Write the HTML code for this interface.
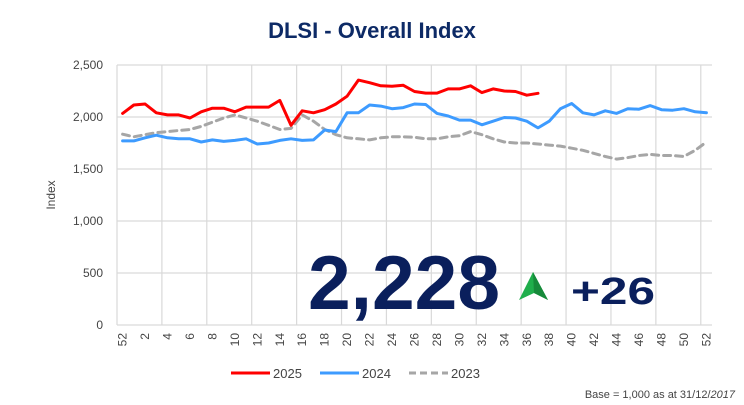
<!DOCTYPE html>
<html><head><meta charset="utf-8"><style>
html,body{margin:0;padding:0;background:#fff;width:744px;height:405px;overflow:hidden}
svg{display:block;font-family:"Liberation Sans",sans-serif}
</style></head><body>
<svg id="chart" width="744" height="405" viewBox="0 0 744 405">
<text x="372" y="38" text-anchor="middle" font-size="22" font-weight="bold" fill="#0d2a66">DLSI - Overall Index</text>
<g id="grid"></g>
<g id="yaxis"></g>
<g id="xaxis"></g>
<text transform="translate(55,195) rotate(-90)" text-anchor="middle" font-size="12" fill="#444">Index</text>
<g id="series"></g>
<text x="308" y="309" font-size="76" font-weight="bold" fill="#0a1f5c" textLength="192" lengthAdjust="spacingAndGlyphs">2,228</text>
<path d="M533,272 L548,300 L534,293 L519,300 Z" fill="#1fae4b"/>
<path d="M533,272 L534,293 L548,300 Z" fill="#168a3a"/>
<text x="571" y="304" font-size="38" font-weight="bold" fill="#0a1f5c" textLength="84" lengthAdjust="spacingAndGlyphs">+26</text>
<g>
<g><line x1="231" y1="373" x2="270" y2="373" stroke="#ff0000" stroke-width="3"/><text x="273" y="378" font-size="13" fill="#444">2025</text></g>
<g><line x1="320" y1="373" x2="359" y2="373" stroke="#3d9bff" stroke-width="3"/><text x="362" y="378" font-size="13" fill="#444">2024</text></g>
<g><line x1="409" y1="373" x2="448" y2="373" stroke="#a6a6a6" stroke-width="3" stroke-dasharray="7,4"/><text x="451" y="378" font-size="13" fill="#444">2023</text></g>
</g>
<text x="735" y="398" text-anchor="end" font-size="11" fill="#444">Base = 1,000 as at 31/12/<tspan font-style="italic">2017</tspan></text>
</svg>
<script>
const categories=["52"];for(let w=1;w<=52;w++)categories.push(String(w));
const yTicks=[0,500,1000,1500,2000,2500];
const yTickLabels=["0","500","1,000","1,500","2,000","2,500"];
const s2025=[2035,2115,2125,2040,2020,2020,1990,2050,2085,2085,2050,2095,2095,2095,2160,1920,2060,2040,2070,2125,2200,2355,2330,2300,2295,2305,2245,2230,2230,2270,2270,2300,2235,2270,2250,2245,2210,2228];
const s2024=[1770,1770,1800,1825,1800,1790,1790,1760,1780,1765,1775,1790,1740,1750,1775,1790,1775,1780,1875,1860,2040,2040,2115,2105,2080,2090,2125,2120,2035,2010,1970,1970,1925,1960,1995,1990,1960,1895,1960,2080,2130,2040,2020,2060,2035,2080,2075,2110,2070,2065,2080,2050,2040];
const s2023=[1835,1810,1830,1850,1860,1870,1880,1910,1950,1990,2020,1990,1960,1920,1880,1890,2020,1960,1880,1830,1800,1790,1780,1800,1810,1810,1805,1790,1790,1810,1820,1860,1830,1790,1760,1750,1750,1740,1730,1720,1700,1680,1650,1620,1595,1610,1630,1640,1630,1630,1620,1680,1760];
const NS="http://www.w3.org/2000/svg";
const L=117,R=712,T=65,B=325;
const bw=(R-L)/categories.length;
const xs=i=>L+(i+0.5)*bw;
const ys=v=>B-(v/2500)*(B-T);
function mk(tag,attrs,parent){const e=document.createElementNS(NS,tag);for(const k in attrs)e.setAttribute(k,attrs[k]);parent.appendChild(e);return e;}
const grid=document.getElementById('grid'),ya=document.getElementById('yaxis'),xa=document.getElementById('xaxis'),ser=document.getElementById('series');
yTicks.forEach((v,i)=>{
 const g=mk('line',{x1:L,x2:R,y1:ys(v),y2:ys(v),stroke:'#d9d9d9','stroke-width':1.2},grid);
 
 
 const t=mk('text',{x:103,y:ys(v)+4,'text-anchor':'end','font-size':12,fill:'#444'},ya);
 t.textContent=yTickLabels[i];
 
 
});
for(let i=0;i<=categories.length;i+=4){
 const x=Math.min(L+i*bw,R);
 const g=mk('line',{x1:x,x2:x,y1:T,y2:B,stroke:'#d9d9d9','stroke-width':1.2},grid);
 
 
}
categories.forEach((c,i)=>{
 if(i%2!==0)return;
 const t=mk('text',{transform:`translate(${xs(i)+4},${333}) rotate(-90)`,'text-anchor':'end','font-size':12,fill:'#444'},xa);
 t.textContent=c;
 
 
});
function line(data,color,dash,name){
 const d=data.map((v,i)=>(i?'L':'M')+xs(i).toFixed(1)+','+ys(v).toFixed(1)).join(' ');
 const p=mk('path',{d:d,fill:'none',stroke:color,'stroke-width':3,'stroke-linejoin':'round','stroke-linecap':'round'},ser);
 if(dash)p.setAttribute('stroke-dasharray',dash);
 
 
}
line(s2023,'#a6a6a6','7,5','line-2023');
line(s2024,'#3d9bff',null,'line-2024');
line(s2025,'#ff0000',null,'line-2025');
</script>
</body></html>
